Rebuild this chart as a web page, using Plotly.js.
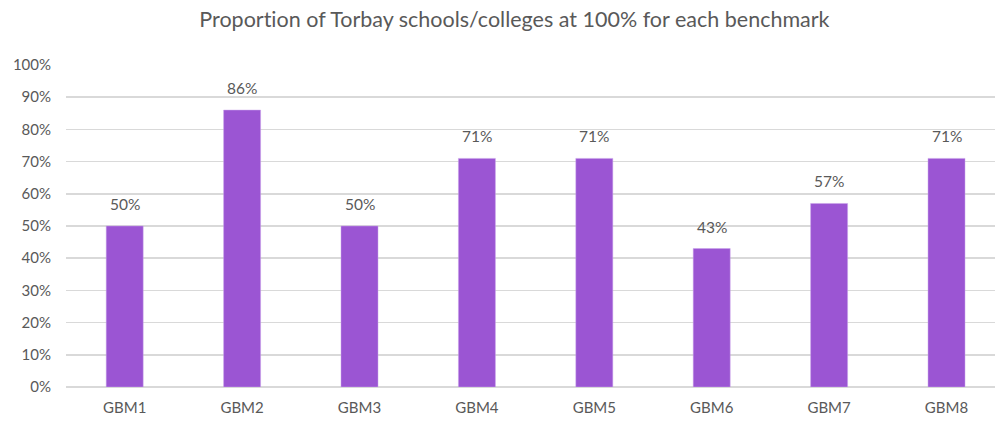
<!DOCTYPE html>
<html>
<head>
<meta charset="utf-8">
<script src="https://cdn.plot.ly/plotly-3.0.1.min.js"></script>
<style>html,body{margin:0;padding:0;background:#fff;} text{font-variant-ligatures:none !important; font-feature-settings:"liga" 0, "clig" 0 !important;}</style>
</head>
<body>
<div id="chart" style="width:995px;height:426px;"></div>
<script>
const categories = ["GBM1","GBM2","GBM3","GBM4","GBM5","GBM6","GBM7","GBM8"];
const values = [0.50, 0.86, 0.50, 0.71, 0.71, 0.43, 0.57, 0.71];
const labels = ["50%","86%","50%","71%","71%","43%","57%","71%"];
const yTickVals = [0,0.1,0.2,0.3,0.4,0.5,0.6,0.7,0.8,0.9,1.0];
const yTickText = ["0%","10%","20%","30%","40%","50%","60%","70%","80%","90%","100%"];

const FONT = "Lato, 'Open Sans', sans-serif";
const GREY = "#595959";

const trace = {
  type: "bar",
  x: categories,
  y: values,
  marker: {color: "#9b55d3", line: {color: "#c9a3ea", width: 0.5}},
  hoverinfo: "none"
};

const annotations = categories.map((c, i) => ({
  x: c, y: values[i], xref: "x", yref: "y",
  text: labels[i], showarrow: false,
  yanchor: "middle", yshift: 22,
  font: {family: FONT, size: 15.5, color: GREY}
}));

const layout = {
  width: 995, height: 426,
  margin: {l: 66, r: 0, t: 65, b: 39},
  paper_bgcolor: "#ffffff",
  plot_bgcolor: "#ffffff",
  showlegend: false,
  bargap: 0.685,
  annotations: annotations,
  title: {
    text: "Proportion of Torbay schools/colleges at 100% for each benchmark",
    font: {family: FONT, size: 21.5, color: GREY},
    x: 0.517, xanchor: "center", y: 0.955, yanchor: "middle"
  },
  xaxis: {
    type: "category",
    range: [-0.5, 7.413],
    showgrid: false,
    showline: false,
    zeroline: false,
    ticks: "",
    ticklabelstandoff: 10,
    tickfont: {family: FONT, size: 15, color: GREY}
  },
  yaxis: {
    range: [0, 1.0],
    tickvals: yTickVals,
    ticktext: yTickText,
    showgrid: true,
    gridcolor: "#d9d9d9",
    gridwidth: 1.5,
    zeroline: true,
    zerolinecolor: "#d9d9d9",
    zerolinewidth: 1.5,
    showline: false,
    ticks: "",
    ticklabelstandoff: 14,
    tickfont: {family: FONT, size: 15, color: GREY}
  }
};

Plotly.newPlot("chart", [trace], layout, {displayModeBar: false, staticPlot: true});
</script>
</body>
</html>
